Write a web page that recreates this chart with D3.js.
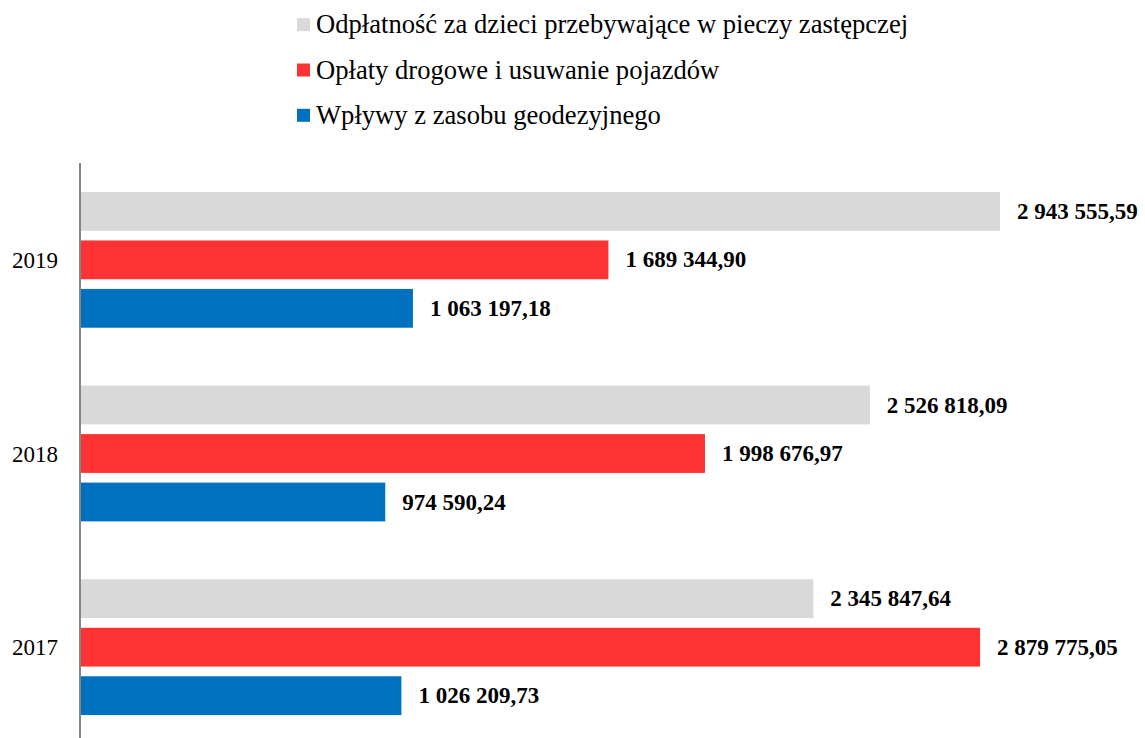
<!DOCTYPE html>
<html>
<head>
<meta charset="utf-8">
<script src="https://cdn.jsdelivr.net/npm/d3@7/dist/d3.min.js"></script>
<style>
  html, body { margin: 0; padding: 0; background: #fff; }
  svg { display: block; }
  text { font-family: "Liberation Serif", "DejaVu Serif", serif; fill: #000; }
</style>
</head>
<body>
<svg id="chart" width="1145" height="738"></svg>
<script>
const years = ["2019", "2018", "2017"];
const seriesNames = [
  "Odpłatność za dzieci przebywające w pieczy zastępczej",
  "Opłaty drogowe i usuwanie pojazdów",
  "Wpływy z zasobu geodezyjnego"
];
const seriesColors = ["#d9d9d9", "#ff3333", "#0070c0"];
// values per year, in order of years above
const pieczaValues = [2943555.59, 2526818.09, 2345847.64];
const drogoweValues = [1689344.90, 1998676.97, 2879775.05];
const geodezjaValues = [1063197.18, 974590.24, 1026209.73];

const seriesValues = [pieczaValues, drogoweValues, geodezjaValues];

const svg = d3.select("#chart");

const locale = d3.formatLocale({ decimal: ",", thousands: " ", grouping: [3], currency: ["", ""] });
const fmt = locale.format(",.2f");

const x = d3.scaleLinear().domain([0, 3000000]).range([81, 1017.6]);
const y0 = d3.scaleBand().domain(years).range([163, 744]).padding(0);
const y1 = d3.scaleBand().domain(d3.range(seriesNames.length))
  .range([0, y0.bandwidth()]).paddingInner(0.2).paddingOuter(0.597);

// Legend
const legend = svg.append("g");
seriesNames.forEach((name, i) => {
  const cy = 24.7 + i * 45.3;
  legend.append("rect")
    .attr("x", 297).attr("y", cy - 6.5)
    .attr("width", 13).attr("height", 13)
    .attr("fill", seriesColors[i]);
  legend.append("text")
    .attr("x", 316).attr("y", cy)
    .attr("dy", "0.33em")
    .style("font-size", "26.6px")
    .text(name);
});

// Bars
const groups = svg.append("g").selectAll("g")
  .data(years)
  .join("g")
  .attr("transform", d => `translate(0,${y0(d)})`);

groups.each(function(year, yi) {
  const g = d3.select(this);
  seriesNames.forEach((name, si) => {
    const v = seriesValues[si][yi];
    g.append("rect")
      .attr("x", x(0))
      .attr("y", y1(si))
      .attr("width", x(v) - x(0))
      .attr("height", y1.bandwidth())
      .attr("fill", seriesColors[si]);
    g.append("text")
      .attr("x", x(v) + 17)
      .attr("y", y1(si) + y1.bandwidth() / 2)
      .attr("dy", "0.33em")
      .style("font-size", "23px")
      .style("font-weight", "bold")
      .text(fmt(v));
  });
});

// Category labels
svg.append("g").selectAll("text")
  .data(years)
  .join("text")
  .attr("x", 58)
  .attr("y", d => y0(d) + y0.bandwidth() / 2)
  .attr("dy", "0.35em")
  .attr("text-anchor", "end")
  .style("font-size", "23px")
  .text(d => d);

// Axis line
svg.append("line")
  .attr("x1", 80).attr("x2", 80)
  .attr("y1", 163).attr("y2", 744)
  .attr("stroke", "#868686")
  .attr("stroke-width", 2);
</script>
</body>
</html>
